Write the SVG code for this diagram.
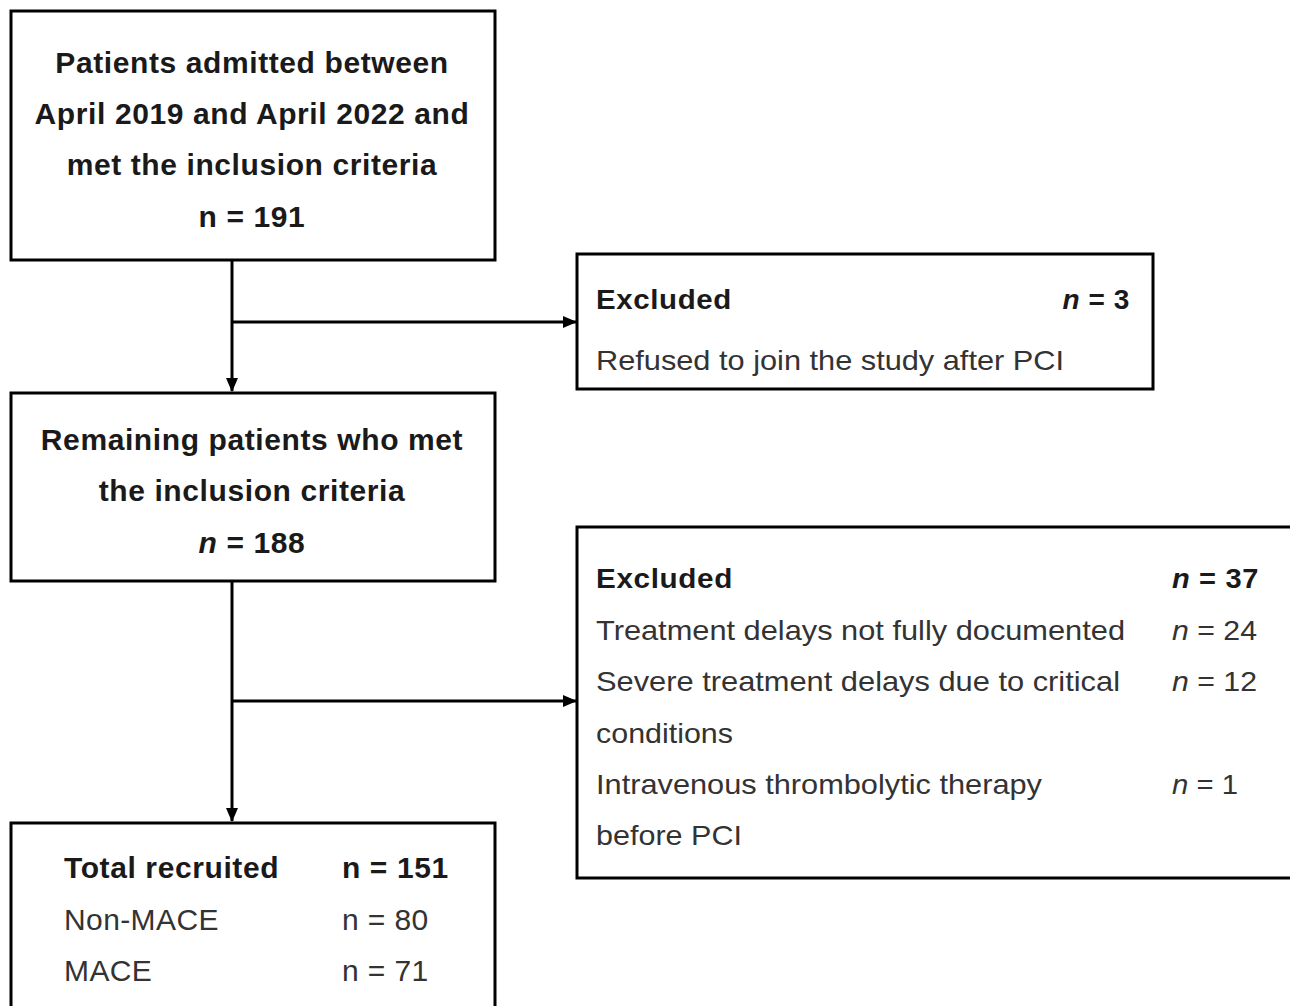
<svg xmlns="http://www.w3.org/2000/svg" width="1290" height="1006" viewBox="0 0 1290 1006">
<defs>
<marker id="arr" markerWidth="14" markerHeight="14" refX="13" refY="7" orient="auto" markerUnits="userSpaceOnUse">
<path d="M0,1 L14,7 L0,13 Z" fill="#000"/>
</marker>
<style>
.box{fill:#fff;stroke:#000;stroke-width:3}
.line{fill:none;stroke:#000;stroke-width:3}
.t{font-family:"Liberation Sans",Arial,sans-serif;font-size:28px;fill:#1a1a1a}
.m{font-size:30px}
.b{font-weight:bold;letter-spacing:0.6px}
.c{text-anchor:middle}
.r{fill:#333}
</style>
</defs>
<rect width="1290" height="1006" fill="#fff"/>
<g id="connectors">
<line class="line" x1="232" y1="260" x2="232" y2="391" marker-end="url(#arr)"/>
<line class="line" x1="232" y1="322" x2="576" y2="322" marker-end="url(#arr)"/>
<line class="line" x1="232" y1="581" x2="232" y2="821" marker-end="url(#arr)"/>
<line class="line" x1="232" y1="701" x2="576" y2="701" marker-end="url(#arr)"/>
</g>
<g id="node1">
<rect class="box" x="11" y="11" width="484" height="249"/>
<text class="t m b c" x="252" y="73">Patients admitted between</text>
<text class="t m b c" x="252" y="124">April 2019 and April 2022 and</text>
<text class="t m b c" x="252" y="175">met the inclusion criteria</text>
<text class="t m b c" x="252" y="227">n = 191</text>
</g>
<g id="excluded1">
<rect class="box" x="577" y="254" width="576" height="135"/>
<text class="t b" x="596" y="309" letter-spacing="0" textLength="136" lengthAdjust="spacingAndGlyphs">Excluded</text>
<text class="t b" x="1130" y="309" text-anchor="end" letter-spacing="0"><tspan font-style="italic">n</tspan> = 3</text>
<text class="t r" x="596" y="370" textLength="468" lengthAdjust="spacingAndGlyphs">Refused to join the study after PCI</text>
</g>
<g id="node2">
<rect class="box" x="11" y="393" width="484" height="188"/>
<text class="t m b c" x="252" y="450">Remaining patients who met</text>
<text class="t m b c" x="252" y="501">the inclusion criteria</text>
<text class="t m b c" x="252" y="553"><tspan font-style="italic">n</tspan> = 188</text>
</g>
<g id="excluded2">
<rect class="box" x="577" y="527" width="740" height="351"/>
<text class="t b" x="596" y="588" letter-spacing="0" textLength="137" lengthAdjust="spacingAndGlyphs">Excluded</text>
<text class="t b" x="1172" y="588" letter-spacing="0" textLength="87" lengthAdjust="spacingAndGlyphs"><tspan font-style="italic">n</tspan> = 37</text>
<text class="t r" x="596" y="640" textLength="529" lengthAdjust="spacingAndGlyphs">Treatment delays not fully documented</text>
<text class="t r" x="1172" y="640" textLength="85" lengthAdjust="spacingAndGlyphs"><tspan font-style="italic">n</tspan> = 24</text>
<text class="t r" x="596" y="691" textLength="524" lengthAdjust="spacingAndGlyphs">Severe treatment delays due to critical</text>
<text class="t r" x="1172" y="691" textLength="85" lengthAdjust="spacingAndGlyphs"><tspan font-style="italic">n</tspan> = 12</text>
<text class="t r" x="596" y="743" textLength="137" lengthAdjust="spacingAndGlyphs">conditions</text>
<text class="t r" x="596" y="794" textLength="446" lengthAdjust="spacingAndGlyphs">Intravenous thrombolytic therapy</text>
<text class="t r" x="1172" y="794" textLength="66" lengthAdjust="spacingAndGlyphs"><tspan font-style="italic">n</tspan> = 1</text>
<text class="t r" x="596" y="845" textLength="146" lengthAdjust="spacingAndGlyphs">before PCI</text>
</g>
<g id="node3">
<rect class="box" x="11" y="823" width="484" height="200"/>
<text class="t m b" x="64" y="878">Total recruited</text>
<text class="t m b" x="342" y="878">n = 151</text>
<text class="t m r" x="64" y="930" letter-spacing="0.4">Non-MACE</text>
<text class="t m r" x="342" y="930" letter-spacing="0.4">n = 80</text>
<text class="t m r" x="64" y="981" letter-spacing="0.4">MACE</text>
<text class="t m r" x="342" y="981" letter-spacing="0.4">n = 71</text>
</g>
</svg>
